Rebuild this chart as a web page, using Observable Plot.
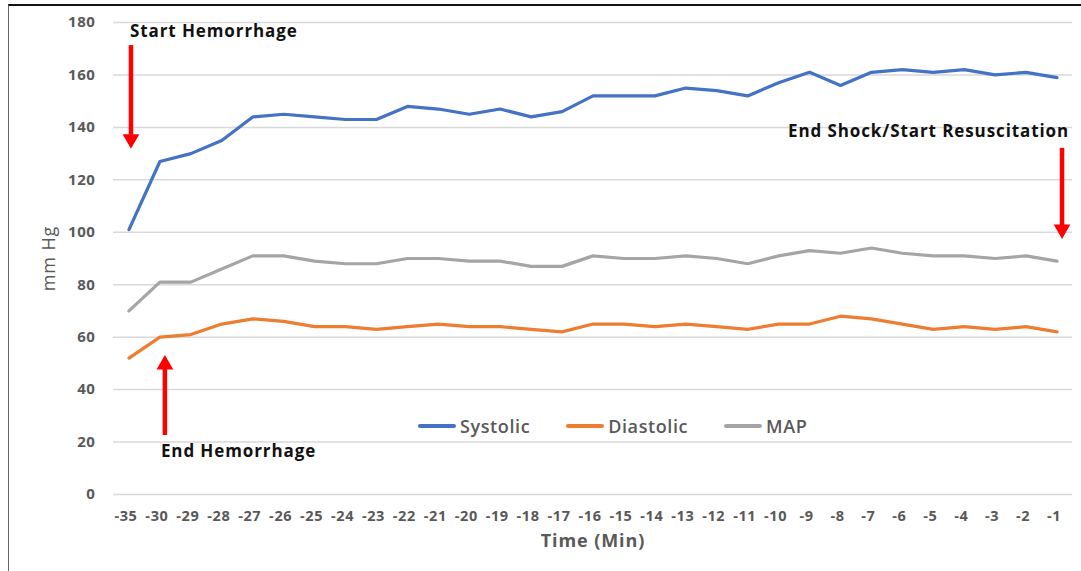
<!DOCTYPE html>
<html>
<head>
<meta charset="utf-8">
<script src="https://cdn.jsdelivr.net/npm/d3@7"></script>
<script src="https://cdn.jsdelivr.net/npm/@observablehq/plot@0.6"></script>
<style>
  html, body { margin: 0; padding: 0; background: #fff; }
  #wrap { position: relative; width: 1081px; height: 571px; overflow: hidden; font-family: "Open Sans", sans-serif; }
  #border { position: absolute; left: 8px; top: 4px; right: 0; bottom: 0; border-top: 2px solid #111; border-left: 1.5px solid #666; pointer-events: none; }
  #legend { position: absolute; left: 418px; top: 414px; display: flex; align-items: center; font-size: 18px; font-weight: 600; letter-spacing: 0.6px; color: #595959; }
  #legend .item { display: flex; align-items: center; margin-right: 36px; }
  #legend .sw { width: 38px; height: 4px; border-radius: 2px; margin-right: 4px; }
  #chart svg g[aria-label="text"] text { letter-spacing: 0.9px; }
  #chart svg g[aria-label="x-axis tick label"] text, #chart svg g[aria-label="y-axis tick label"] text { letter-spacing: 0.6px; }
</style>
</head>
<body>
<div id="wrap">
  <div id="chart"></div>
  <div id="legend"></div>
  <div id="border"></div>
</div>
<script>
const times = ["-35","-30","-29","-28","-27","-26","-25","-24","-23","-22","-21","-20","-19","-18","-17","-16","-15","-14","-13","-12","-11","-10","-9","-8","-7","-6","-5","-4","-3","-2","-1"];
const systolic  = [101,127,130,135,144,145,144,143,143,148,147,145,147,144,146,152,152,152,155,154,152,157,161,156,161,162,161,162,160,161,159];
const diastolic = [52,60,61,65,67,66,64,64,63,64,65,64,64,63,62,65,65,64,65,64,63,65,65,68,67,65,63,64,63,64,62];
const mapVals   = [70,81,81,86,91,91,89,88,88,90,90,89,89,87,87,91,90,90,91,90,88,91,93,92,94,92,91,91,90,91,89];
const seriesNames = ["Systolic","Diastolic","MAP"];
const seriesColors = ["#4472C4","#ED7D31","#A5A5A5"];
const yTicks = [0,20,40,60,80,100,120,140,160,180];

// annotations (data units)
const annoStart = [
  {x: "-35", y: 176.6, text: "Start Hemorrhage"},
  {x: "-30", y: 16.4, text: "End Hemorrhage"}
];
const annoEnd = [
  {x: "-1", y: 138.4, text: "End Shock/Start Resuscitation"}
];
const arrows = [
  {x: "-35", y1: 171.2, y2: 137, head: 135.5, rot: 180, dx: 2},
  {x: "-1", y1: 132, y2: 102.5, head: 101.1, rot: 180, dx: 5},
  {x: "-30", y1: 22.5, y2: 48, head: 49.5, rot: 0, dx: 5}
];

const rows = [];
[systolic, diastolic, mapVals].forEach((arr, s) => {
  arr.forEach((v, i) => rows.push({t: times[i], v, s: seriesNames[s]}));
});

const font = "Open Sans, sans-serif";
const xScale = {type: "point", domain: times, padding: 0.5, round: false};
const chart = Plot.plot({
  width: 1081,
  height: 571,
  marginTop: 22,
  marginBottom: 77,
  marginLeft: 113,
  marginRight: 9,
  style: {fontFamily: font, background: "transparent", overflow: "visible"},
  x: xScale,
  y: {domain: [0, 180], ticks: yTicks},
  color: {domain: seriesNames, range: seriesColors},
  marks: [
    Plot.gridY(yTicks, {stroke: "#d9d9d9", strokeOpacity: 1, strokeWidth: 1.5}),
    Plot.axisY(yTicks, {tickSize: 0, tickPadding: 18, label: null, fontSize: 15, fontWeight: "bold", fill: "#595959"}),
    Plot.axisX(times, {tickSize: 0, tickPadding: 16, label: null, fontSize: 14.5, fontWeight: "bold", fill: "#595959", dx: -3}),
    Plot.line(rows, {x: "t", y: "v", z: "s", stroke: "s", strokeWidth: 3.2, strokeLinejoin: "round", strokeLinecap: "round"}),
    Plot.text(["Time (Min)"], {frameAnchor: "bottom", dy: 52, text: d => d, fontSize: 18, fontWeight: "bold", fill: "#595959"}),
    Plot.text(["mm Hg"], {frameAnchor: "left", textAnchor: "middle", dx: -64, rotate: -90, text: d => d, fontSize: 18, fill: "#595959"}),
    Plot.text(annoStart, {x: "x", y: "y", text: "text", textAnchor: "start", dx: 1, fontSize: 17, fontWeight: "bold", fill: "#111"}),
    Plot.text(annoEnd, {x: "x", y: "y", text: "text", textAnchor: "end", dx: 12, fontSize: 17, fontWeight: "bold", fill: "#111"}),
    ...arrows.flatMap(a => [
      Plot.ruleX([a], {x: "x", y1: "y1", y2: "y2", dx: a.dx, stroke: "#FF0000", strokeWidth: 4.5}),
      Plot.dot([a], {x: "x", y: "head", dx: a.dx, symbol: "triangle", r: 6.2, fill: "#FF0000", stroke: "none", rotate: a.rot})
    ])
  ]
});
document.getElementById("chart").appendChild(chart);

const legend = document.getElementById("legend");
seriesNames.forEach((n, i) => {
  const it = document.createElement("div"); it.className = "item";
  const sw = document.createElement("div"); sw.className = "sw"; sw.style.background = seriesColors[i];
  const tx = document.createElement("span"); tx.textContent = n;
  it.appendChild(sw); it.appendChild(tx); legend.appendChild(it);
});
</script>
</body>
</html>
